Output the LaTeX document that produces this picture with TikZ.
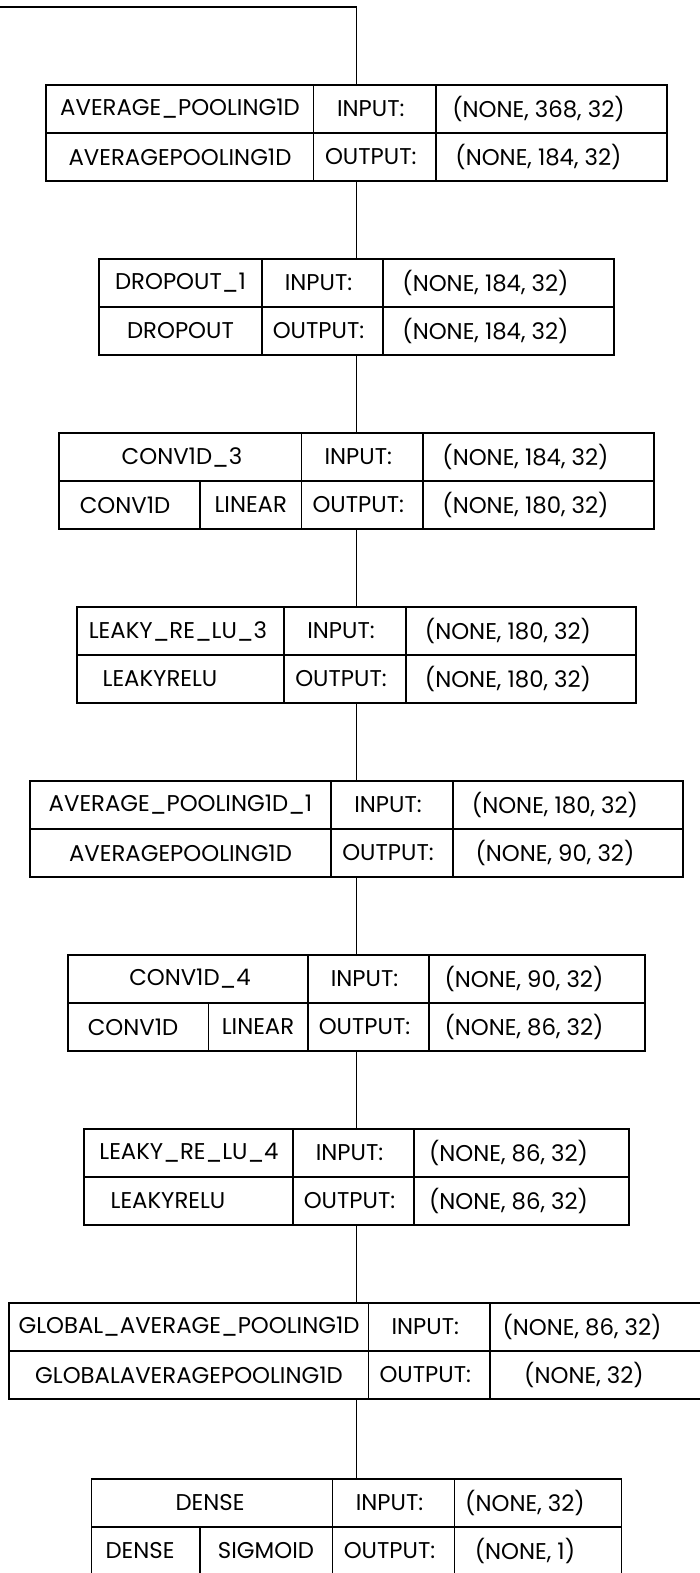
\documentclass[tikz,border=0pt]{standalone}
\usepackage{fontspec}
\setmainfont{Poppins}
\newcommand{\fieldsize}{\fontsize{11.4pt}{13pt}\selectfont}
\tikzstyle{layerbox}=[draw, line width=0.7pt, minimum height=48pt, inner sep=0pt]
\tikzstyle{grid}=[line width=0.7pt]
\tikzstyle{wire}=[line width=0.7pt]
\tikzstyle{field}=[font=\fieldsize, inner sep=1pt]
\tikzstyle{io}=[field, xshift=-2pt]
\tikzstyle{dims}=[field, xshift=-6.5pt]

\begin{document}
\begin{tikzpicture}[x=0.5pt, y=-0.5pt]
  \clip (0,0) rectangle (700,1573);
  \useasboundingbox (0,0) rectangle (700,1573);
  \coordinate (in) at (0,7);

  %% average_pooling1d
  \node[layerbox, minimum width=621*0.5pt] (pool) at (356.5,133) {};
  \draw[grid] (313.5,85) -- (313.5,181) (436,85) -- (436,181) (46,133) -- (667,133);
  \node[field] (pool-name) at (180,109) {AVERAGE\_POOLING1D};
  \node[field] (pool-cls) at (180,157) {AVERAGEPOOLING1D};
  \node[io] (pool-in) at (374.75,109) {INPUT:};
  \node[io] (pool-out) at (374.75,157) {OUTPUT:};
  \node[dims] (pool-ins) at (551.5,109) {(NONE, 368, 32)};
  \node[dims] (pool-outs) at (551.5,157) {(NONE, 184, 32)};

  %% dropout_1
  \node[layerbox, minimum width=515*0.5pt] (drop) at (356.5,307) {};
  \draw[grid] (262,259) -- (262,355) (383,259) -- (383,355) (99,307) -- (614,307);
  \node[field] (drop-name) at (180.5,283) {DROPOUT\_1};
  \node[field] (drop-cls) at (180.5,331) {DROPOUT};
  \node[io] (drop-in) at (322.5,283) {INPUT:};
  \node[io] (drop-out) at (322.5,331) {OUTPUT:};
  \node[dims] (drop-ins) at (498.5,283) {(NONE, 184, 32)};
  \node[dims] (drop-outs) at (498.5,331) {(NONE, 184, 32)};

  %% conv1d_3
  \node[layerbox, minimum width=595*0.5pt] (conv3) at (356.5,481) {};
  \draw[grid] (301.5,433) -- (301.5,529) (423,433) -- (423,529) (200,481) -- (200,529) (59,481) -- (654,481);
  \node[field] (conv3-name) at (182,457) {CONV1D\_3};
  \node[field] (conv3-cls) at (125,505) {CONV1D};
  \node[field] (conv3-act) at (250.75,505) {LINEAR};
  \node[io] (conv3-in) at (362.25,457) {INPUT:};
  \node[io] (conv3-out) at (362.25,505) {OUTPUT:};
  \node[dims] (conv3-ins) at (538.5,457) {(NONE, 184, 32)};
  \node[dims] (conv3-outs) at (538.5,505) {(NONE, 180, 32)};

  %% leaky_re_lu_3
  \node[layerbox, minimum width=559*0.5pt] (leaky3) at (356.5,655) {};
  \draw[grid] (284,607) -- (284,703) (406,607) -- (406,703) (77,655) -- (636,655);
  \node[field] (leaky3-name) at (178,631) {LEAKY\_RE\_LU\_3};
  \node[field] (leaky3-cls) at (160,679) {LEAKYRELU};
  \node[io] (leaky3-in) at (345,631) {INPUT:};
  \node[io] (leaky3-out) at (345,679) {OUTPUT:};
  \node[dims] (leaky3-ins) at (521,631) {(NONE, 180, 32)};
  \node[dims] (leaky3-outs) at (521,679) {(NONE, 180, 32)};

  %% average_pooling1d_1
  \node[layerbox, minimum width=653*0.5pt] (pool1) at (356.5,829) {};
  \draw[grid] (331,781) -- (331,877) (453,781) -- (453,877) (30,829) -- (683,829);
  \node[field] (pool1-name) at (180.5,805) {AVERAGE\_POOLING1D\_1};
  \node[field] (pool1-cls) at (180.5,853) {AVERAGEPOOLING1D};
  \node[io] (pool1-in) at (392,805) {INPUT:};
  \node[io] (pool1-out) at (392,853) {OUTPUT:};
  \node[dims] (pool1-ins) at (568,805) {(NONE, 180, 32)};
  \node[dims] (pool1-outs) at (568,853) {(NONE, 90, 32)};

  %% conv1d_4
  \node[layerbox, minimum width=577*0.5pt] (conv4) at (356.5,1003) {};
  \draw[grid] (308,955) -- (308,1051) (429,955) -- (429,1051) (208.5,1003) -- (208.5,1051) (68,1003) -- (645,1003);
  \node[field] (conv4-name) at (190,979) {CONV1D\_4};
  \node[field] (conv4-cls) at (133,1027) {CONV1D};
  \node[field] (conv4-act) at (258,1027) {LINEAR};
  \node[io] (conv4-in) at (368.5,979) {INPUT:};
  \node[io] (conv4-out) at (368.5,1027) {OUTPUT:};
  \node[dims] (conv4-ins) at (537,979) {(NONE, 90, 32)};
  \node[dims] (conv4-outs) at (537,1027) {(NONE, 86, 32)};

  %% leaky_re_lu_4
  \node[layerbox, minimum width=545*0.5pt] (leaky4) at (356.5,1177) {};
  \draw[grid] (293,1129) -- (293,1225) (414,1129) -- (414,1225) (84,1177) -- (629,1177);
  \node[field] (leaky4-name) at (189,1153) {LEAKY\_RE\_LU\_4};
  \node[field] (leaky4-cls) at (168,1201) {LEAKYRELU};
  \node[io] (leaky4-in) at (353.5,1153) {INPUT:};
  \node[io] (leaky4-out) at (353.5,1201) {OUTPUT:};
  \node[dims] (leaky4-ins) at (521.5,1153) {(NONE, 86, 32)};
  \node[dims] (leaky4-outs) at (521.5,1201) {(NONE, 86, 32)};

  %% global_average_pooling1d
  \node[layerbox, minimum width=695*0.5pt] (gap) at (356.5,1351) {};
  \draw[grid] (368.5,1303) -- (368.5,1399) (490,1303) -- (490,1399) (9,1351) -- (704,1351);
  \node[field] (gap-name) at (189,1327) {GLOBAL\_AVERAGE\_POOLING1D};
  \node[field] (gap-cls) at (189,1375) {GLOBALAVERAGEPOOLING1D};
  \node[io] (gap-in) at (429.25,1327) {INPUT:};
  \node[io] (gap-out) at (429.25,1375) {OUTPUT:};
  \node[dims] (gap-ins) at (595,1327) {(NONE, 86, 32)};
  \node[dims] (gap-outs) at (597,1375) {(NONE, 32)};

  %% dense
  \node[layerbox, minimum width=530*0.5pt] (dense) at (356.5,1527) {};
  \draw[grid] (332.5,1479) -- (332.5,1575) (454.5,1479) -- (454.5,1575) (200,1527) -- (200,1575) (91.5,1527) -- (621.5,1527);
  \node[field] (dense-name) at (210,1503) {DENSE};
  \node[field] (dense-cls) at (140,1551) {DENSE};
  \node[field] (dense-act) at (266,1551) {SIGMOID};
  \node[io] (dense-in) at (393.5,1503) {INPUT:};
  \node[io] (dense-out) at (393.5,1551) {OUTPUT:};
  \node[dims] (dense-ins) at (538,1503) {(NONE, 32)};
  \node[dims] (dense-outs) at (538,1551) {(NONE, 1)};

  %% connections
  \draw[wire] (in) -| (pool);
  \draw[wire] (pool) -- (drop);
  \draw[wire] (drop) -- (conv3);
  \draw[wire] (conv3) -- (leaky3);
  \draw[wire] (leaky3) -- (pool1);
  \draw[wire] (pool1) -- (conv4);
  \draw[wire] (conv4) -- (leaky4);
  \draw[wire] (leaky4) -- (gap);
  \draw[wire] (gap) -- (dense);
\end{tikzpicture}
\end{document}
